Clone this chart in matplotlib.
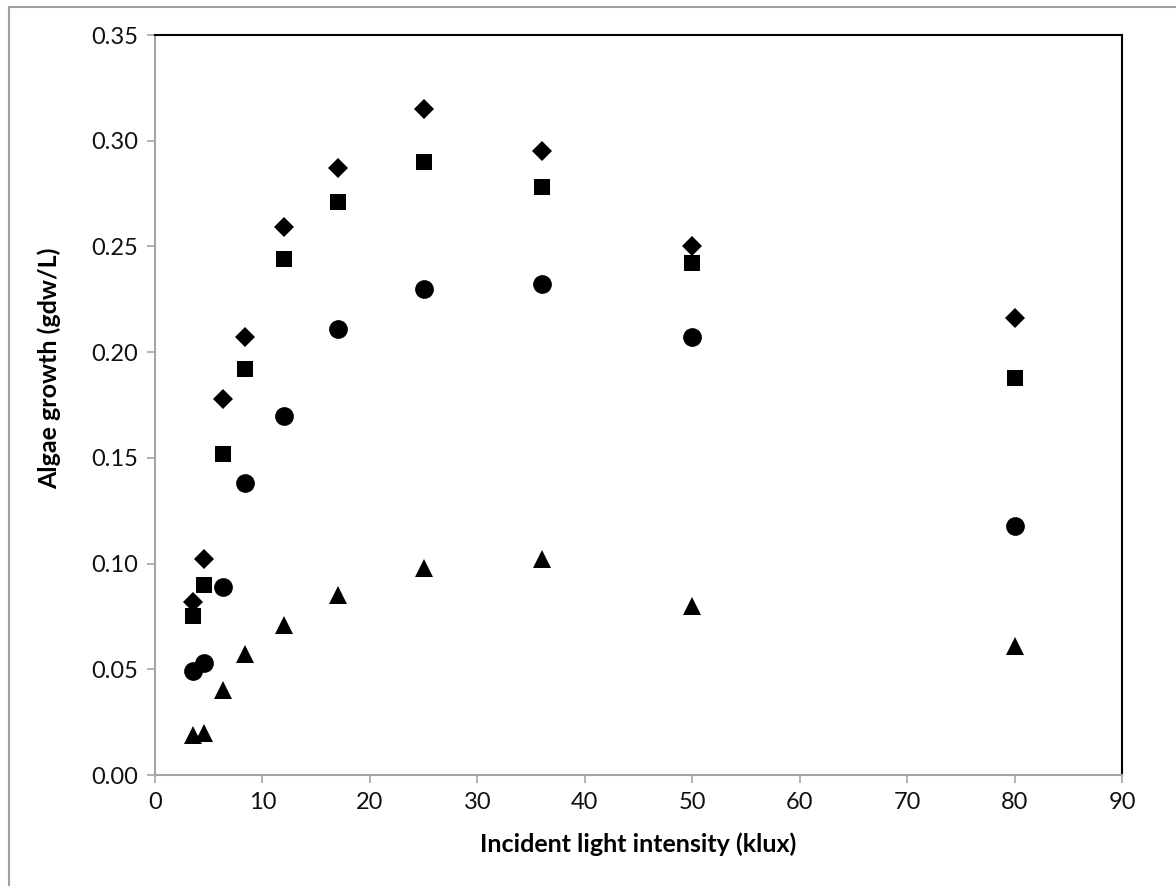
"""Algae growth vs incident light intensity."""

import matplotlib
matplotlib.use('Agg')
import matplotlib.pyplot as plt
from matplotlib.lines import Line2D

plt.rcParams['font.family'] = ['Lato', 'DejaVu Sans']

light = [3.5, 4.6, 6.3, 8.4, 12, 17, 25, 36, 50, 80]
growth_diamond = [0.082, 0.102, 0.178, 0.207, 0.259, 0.287, 0.315, 0.295, 0.250, 0.216]
growth_square = [0.075, 0.090, 0.152, 0.192, 0.244, 0.271, 0.290, 0.278, 0.242, 0.188]
growth_circle = [0.049, 0.053, 0.089, 0.138, 0.170, 0.211, 0.230, 0.232, 0.207, 0.118]
growth_triangle = [0.019, 0.020, 0.040, 0.057, 0.071, 0.085, 0.098, 0.102, 0.080, 0.061]

x_ticks = list(range(0, 91, 10))
y_ticks = [0.00, 0.05, 0.10, 0.15, 0.20, 0.25, 0.30, 0.35]

fig = plt.figure(figsize=(11.76, 8.86), dpi=100)
ax = fig.add_axes([155 / 1176, 1 - 775 / 886, (1122 - 155) / 1176, (775 - 35) / 886])

ax.plot(light, growth_diamond, 'D', color='black', ms=10, mew=0)
ax.plot(light, growth_square, 's', color='black', ms=11.5, mew=0)
ax.plot(light, growth_circle, 'o', color='black', ms=13.5, mew=0)
ax.plot(light, growth_triangle, '^', color='black', ms=13.5, mew=0)

ax.set_xlim(0, 90)
ax.set_ylim(0, 0.35)
ax.set_xticks(x_ticks)
ax.set_yticks(y_ticks)
ax.set_yticklabels(['{:.2f}'.format(v) for v in y_ticks])

for side in ('left', 'bottom'):
    ax.spines[side].set_color('#a6a6a6')
    ax.spines[side].set_linewidth(1.5)
for side in ('top', 'right'):
    ax.spines[side].set_color('black')
    ax.spines[side].set_linewidth(1.5)

ax.tick_params(direction='out', length=6, width=1.2, color='#a6a6a6',
               labelsize=17, labelcolor='#111111', pad=6)

ax.set_xlabel('Incident light intensity (klux)', fontsize=18, fontweight='bold', labelpad=14)
ax.set_ylabel('Algae growth (gdw/L)', fontsize=18, fontweight='bold')
ax.yaxis.set_label_coords(-0.097, 0.549)

# outer chart frame (left and top edges only visible)
fig.add_artist(Line2D([9 / 1176, 9 / 1176], [0, 1 - 7 / 886], color='#a0a0a0', lw=1.5))
fig.add_artist(Line2D([9 / 1176, 1], [1 - 7 / 886, 1 - 7 / 886], color='#a0a0a0', lw=1.5))

fig.savefig('out.png', dpi=100)
